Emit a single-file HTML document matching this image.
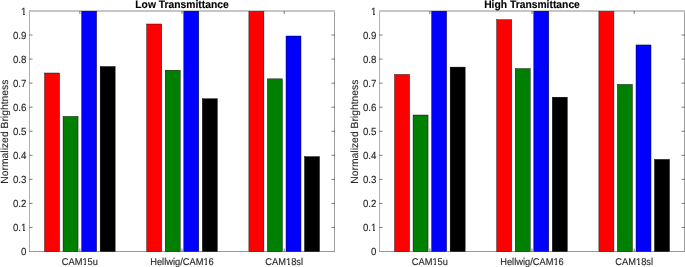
<!DOCTYPE html>
<html><head><meta charset="utf-8"><style>
html,body{margin:0;padding:0;background:#fff;width:685px;height:267px;overflow:hidden}
svg{display:block;will-change:transform}
text{font-family:"Liberation Sans",sans-serif;fill:#262626;text-rendering:geometricPrecision;stroke:#262626;stroke-width:0.12px}
</style></head><body>
<svg width="685" height="267" viewBox="0 0 685 267">
<defs><clipPath id="cp"><rect x="0" y="11" width="685" height="256"/></clipPath></defs>
<rect width="685" height="267" fill="#fff"/>
<rect x="29" y="10" width="1" height="242" fill="#b0b0b0"/>
<rect x="334" y="10" width="1" height="242" fill="#9c9c9c"/>
<rect x="29" y="10" width="306" height="2" fill="#c6c6c6"/>
<rect x="29" y="251" width="306" height="1" fill="#999"/>
<path d="M29.5 227.45h3M334.5 227.45h-3M29.5 203.4h3M334.5 203.4h-3M29.5 179.35h3M334.5 179.35h-3M29.5 155.3h3M334.5 155.3h-3M29.5 131.25h3M334.5 131.25h-3M29.5 107.2h3M334.5 107.2h-3M29.5 83.15h3M334.5 83.15h-3M29.5 59.1h3M334.5 59.1h-3M29.5 35.05h3M334.5 35.05h-3M79.85 251.5v-3M79.85 11v3M182 251.5v-3M182 11v3M284.2 251.5v-3M284.2 11v3" stroke="#262626" stroke-width="0.62" fill="none"/>
<g clip-path="url(#cp)"><rect x="44.55" y="73" width="15" height="178.5" fill="#ff0000" stroke="#000" stroke-width="0.42"/><rect x="63.05" y="116.4" width="15" height="135.1" fill="#008000" stroke="#000" stroke-width="0.42"/><rect x="81.65" y="5" width="15" height="246.5" fill="#0000ff" stroke="#000" stroke-width="0.42"/><rect x="100.15" y="66.5" width="15" height="185" fill="#000000" stroke="#000" stroke-width="0.42"/><rect x="146.7" y="24" width="15" height="227.5" fill="#ff0000" stroke="#000" stroke-width="0.42"/><rect x="165.2" y="70.2" width="15" height="181.3" fill="#008000" stroke="#000" stroke-width="0.42"/><rect x="183.8" y="5" width="15" height="246.5" fill="#0000ff" stroke="#000" stroke-width="0.42"/><rect x="202.3" y="98.75" width="15" height="152.75" fill="#000000" stroke="#000" stroke-width="0.42"/><rect x="248.9" y="5" width="15" height="246.5" fill="#ff0000" stroke="#000" stroke-width="0.42"/><rect x="267.4" y="78.85" width="15" height="172.65" fill="#008000" stroke="#000" stroke-width="0.42"/><rect x="286" y="36" width="15" height="215.5" fill="#0000ff" stroke="#000" stroke-width="0.42"/><rect x="304.5" y="156.6" width="15" height="94.9" fill="#000000" stroke="#000" stroke-width="0.42"/></g>
<g transform="translate(26.4 255.2) scale(1 1.06)"><text text-anchor="end" font-size="9.7">0</text></g>
<g transform="translate(26.4 231.15) scale(1 1.06)"><text text-anchor="end" font-size="9.7">0.1</text></g><rect x="21" y="229" width="2" height="3" fill="#fff"/><rect x="25" y="229" width="1" height="3" fill="#fff"/>
<g transform="translate(26.4 207.1) scale(1 1.06)"><text text-anchor="end" font-size="9.7">0.2</text></g>
<g transform="translate(26.4 183.05) scale(1 1.06)"><text text-anchor="end" font-size="9.7">0.3</text></g>
<g transform="translate(26.4 159) scale(1 1.06)"><text text-anchor="end" font-size="9.7">0.4</text></g>
<g transform="translate(26.4 134.95) scale(1 1.06)"><text text-anchor="end" font-size="9.7">0.5</text></g>
<g transform="translate(26.4 110.9) scale(1 1.06)"><text text-anchor="end" font-size="9.7">0.6</text></g>
<g transform="translate(26.4 86.85) scale(1 1.06)"><text text-anchor="end" font-size="9.7">0.7</text></g>
<g transform="translate(26.4 62.8) scale(1 1.06)"><text text-anchor="end" font-size="9.7">0.8</text></g>
<g transform="translate(26.4 38.75) scale(1 1.06)"><text text-anchor="end" font-size="9.7">0.9</text></g>
<g transform="translate(26.4 14.7) scale(1 1.06)"><text text-anchor="end" font-size="9.7">1</text></g><rect x="21" y="12" width="2" height="4" fill="#fff"/><rect x="25" y="12" width="1" height="4" fill="#fff"/>
<g transform="translate(79.85 264.6) scale(1 1.06)"><text text-anchor="middle" font-size="9.3">CAM15u</text></g><rect x="83" y="262" width="1" height="4" fill="#fff"/><rect x="86" y="262" width="2" height="4" fill="#fff"/>
<g transform="translate(182 264.6) scale(1 1.06)"><text text-anchor="middle" font-size="9.3">Hellwig/CAM16</text></g><rect x="204" y="262" width="1" height="4" fill="#fff"/><rect x="207" y="262" width="2" height="4" fill="#fff"/>
<g transform="translate(284.2 264.6) scale(1 1.06)"><text text-anchor="middle" font-size="9.3">CAM18sl</text></g><rect x="286" y="262" width="2" height="4" fill="#fff"/><rect x="290" y="262" width="1" height="4" fill="#fff"/>
<text transform="translate(182 7.7) scale(1 1.06)" text-anchor="middle" font-size="10.32" font-weight="bold" style="fill:#000;stroke:#000">Low Transmittance</text>
<text transform="translate(7.7 131.65) rotate(-90)" text-anchor="middle" font-size="10.35">Normalized Brightness</text>
<rect x="379" y="10" width="1" height="242" fill="#b0b0b0"/>
<rect x="684" y="10" width="1" height="242" fill="#9c9c9c"/>
<rect x="379" y="10" width="306" height="2" fill="#c6c6c6"/>
<rect x="379" y="251" width="306" height="1" fill="#999"/>
<path d="M379.5 227.45h3M684.5 227.45h-3M379.5 203.4h3M684.5 203.4h-3M379.5 179.35h3M684.5 179.35h-3M379.5 155.3h3M684.5 155.3h-3M379.5 131.25h3M684.5 131.25h-3M379.5 107.2h3M684.5 107.2h-3M379.5 83.15h3M684.5 83.15h-3M379.5 59.1h3M684.5 59.1h-3M379.5 35.05h3M684.5 35.05h-3M429.85 251.5v-3M429.85 11v3M532 251.5v-3M532 11v3M634.2 251.5v-3M634.2 11v3" stroke="#262626" stroke-width="0.62" fill="none"/>
<g clip-path="url(#cp)"><rect x="394.55" y="74.45" width="15" height="177.05" fill="#ff0000" stroke="#000" stroke-width="0.42"/><rect x="413.05" y="115" width="15" height="136.5" fill="#008000" stroke="#000" stroke-width="0.42"/><rect x="431.65" y="5" width="15" height="246.5" fill="#0000ff" stroke="#000" stroke-width="0.42"/><rect x="450.15" y="67.1" width="15" height="184.4" fill="#000000" stroke="#000" stroke-width="0.42"/><rect x="496.7" y="19.7" width="15" height="231.8" fill="#ff0000" stroke="#000" stroke-width="0.42"/><rect x="515.2" y="68.55" width="15" height="182.95" fill="#008000" stroke="#000" stroke-width="0.42"/><rect x="533.8" y="5" width="15" height="246.5" fill="#0000ff" stroke="#000" stroke-width="0.42"/><rect x="552.3" y="97.2" width="15" height="154.3" fill="#000000" stroke="#000" stroke-width="0.42"/><rect x="598.9" y="5" width="15" height="246.5" fill="#ff0000" stroke="#000" stroke-width="0.42"/><rect x="617.4" y="84.4" width="15" height="167.1" fill="#008000" stroke="#000" stroke-width="0.42"/><rect x="636" y="44.95" width="15" height="206.55" fill="#0000ff" stroke="#000" stroke-width="0.42"/><rect x="654.5" y="159.4" width="15" height="92.1" fill="#000000" stroke="#000" stroke-width="0.42"/></g>
<g transform="translate(376.4 255.2) scale(1 1.06)"><text text-anchor="end" font-size="9.7">0</text></g>
<g transform="translate(376.4 231.15) scale(1 1.06)"><text text-anchor="end" font-size="9.7">0.1</text></g><rect x="371" y="229" width="2" height="3" fill="#fff"/><rect x="375" y="229" width="1" height="3" fill="#fff"/>
<g transform="translate(376.4 207.1) scale(1 1.06)"><text text-anchor="end" font-size="9.7">0.2</text></g>
<g transform="translate(376.4 183.05) scale(1 1.06)"><text text-anchor="end" font-size="9.7">0.3</text></g>
<g transform="translate(376.4 159) scale(1 1.06)"><text text-anchor="end" font-size="9.7">0.4</text></g>
<g transform="translate(376.4 134.95) scale(1 1.06)"><text text-anchor="end" font-size="9.7">0.5</text></g>
<g transform="translate(376.4 110.9) scale(1 1.06)"><text text-anchor="end" font-size="9.7">0.6</text></g>
<g transform="translate(376.4 86.85) scale(1 1.06)"><text text-anchor="end" font-size="9.7">0.7</text></g>
<g transform="translate(376.4 62.8) scale(1 1.06)"><text text-anchor="end" font-size="9.7">0.8</text></g>
<g transform="translate(376.4 38.75) scale(1 1.06)"><text text-anchor="end" font-size="9.7">0.9</text></g>
<g transform="translate(376.4 14.7) scale(1 1.06)"><text text-anchor="end" font-size="9.7">1</text></g><rect x="371" y="12" width="2" height="4" fill="#fff"/><rect x="375" y="12" width="1" height="4" fill="#fff"/>
<g transform="translate(429.85 264.6) scale(1 1.06)"><text text-anchor="middle" font-size="9.3">CAM15u</text></g><rect x="433" y="262" width="1" height="4" fill="#fff"/><rect x="436" y="262" width="2" height="4" fill="#fff"/>
<g transform="translate(532 264.6) scale(1 1.06)"><text text-anchor="middle" font-size="9.3">Hellwig/CAM16</text></g><rect x="554" y="262" width="1" height="4" fill="#fff"/><rect x="557" y="262" width="2" height="4" fill="#fff"/>
<g transform="translate(634.2 264.6) scale(1 1.06)"><text text-anchor="middle" font-size="9.3">CAM18sl</text></g><rect x="636" y="262" width="2" height="4" fill="#fff"/><rect x="640" y="262" width="1" height="4" fill="#fff"/>
<text transform="translate(532 7.7) scale(1 1.06)" text-anchor="middle" font-size="10.32" font-weight="bold" style="fill:#000;stroke:#000">High Transmittance</text>
<text transform="translate(357.7 131.65) rotate(-90)" text-anchor="middle" font-size="10.35">Normalized Brightness</text>
</svg>
</body></html>
